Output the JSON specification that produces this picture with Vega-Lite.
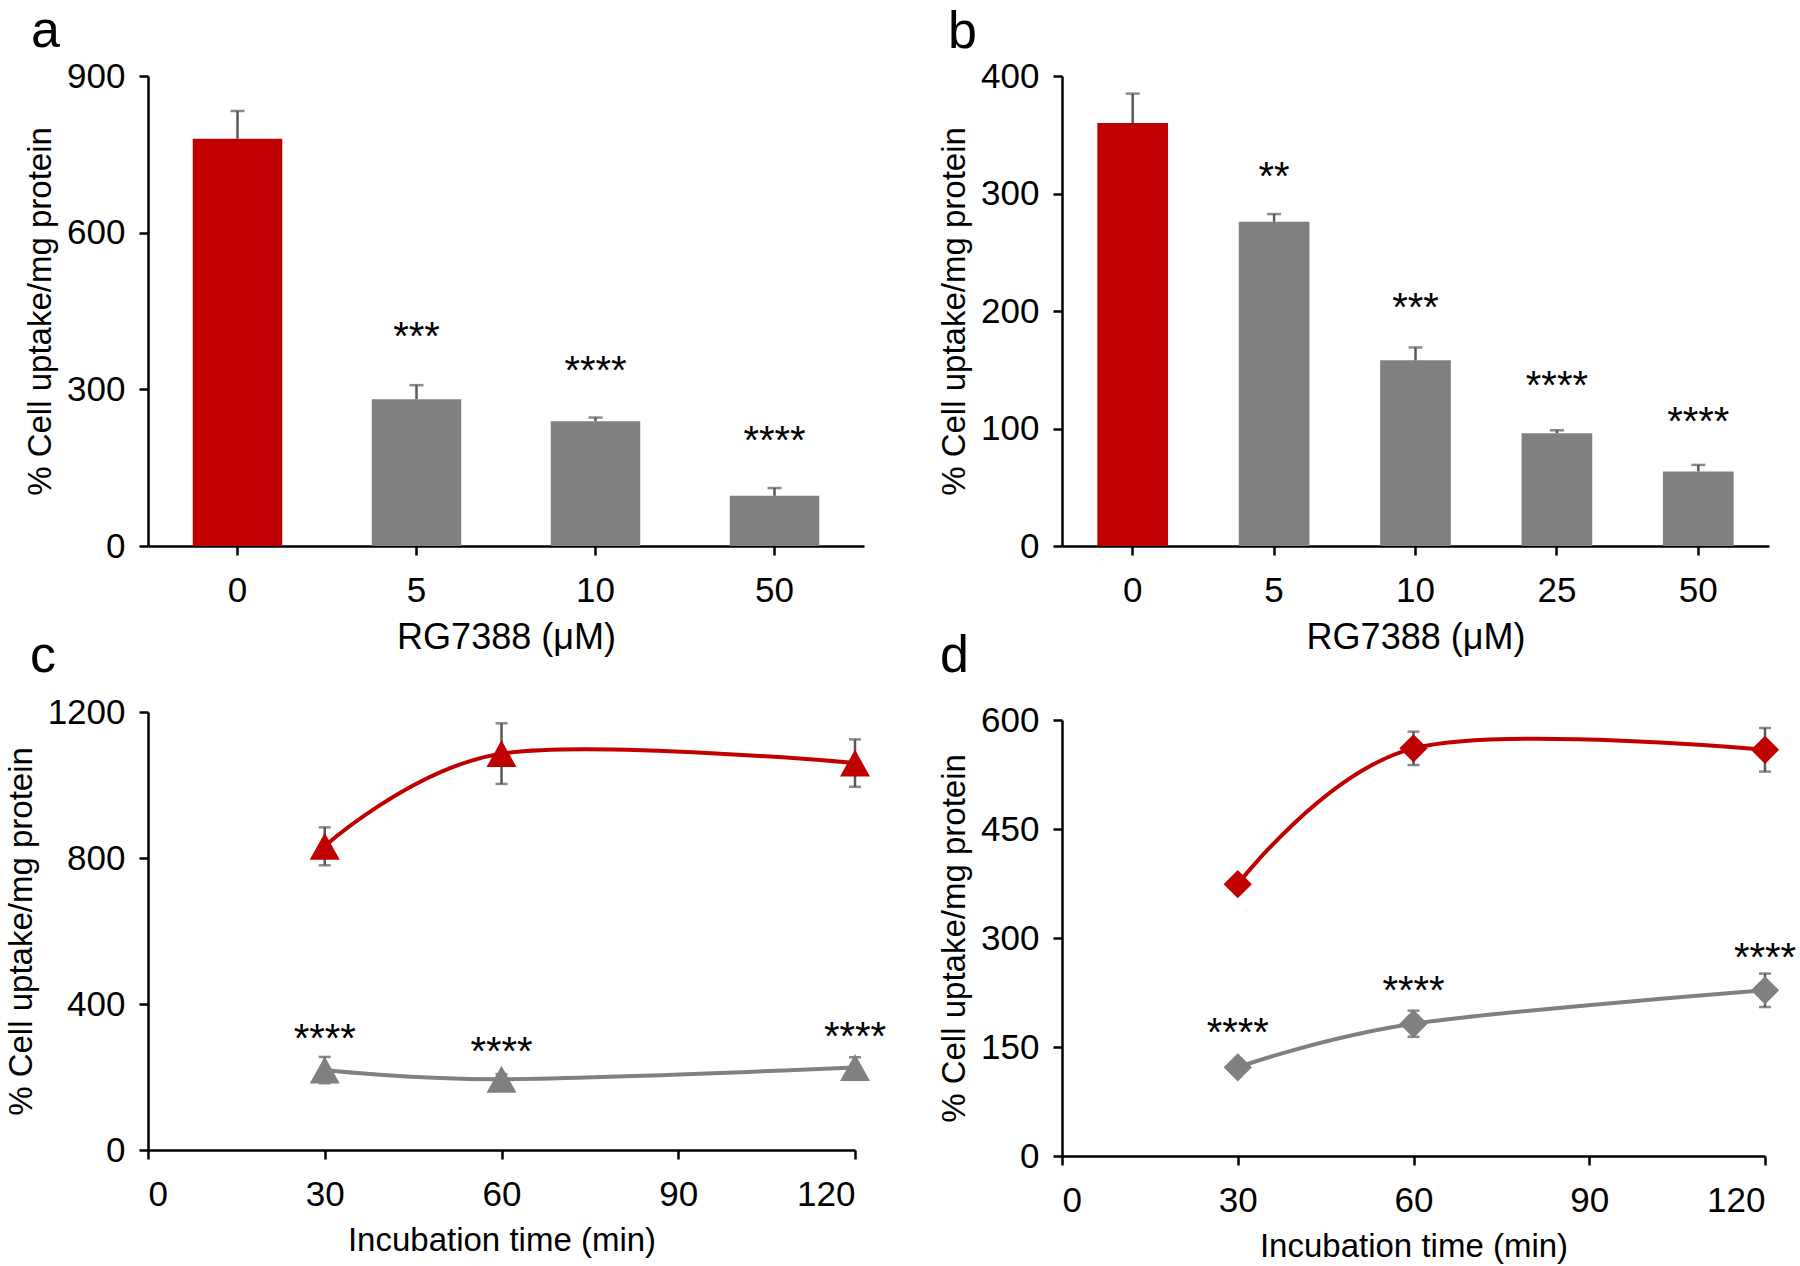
{
  "$schema": "https://vega.github.io/schema/vega-lite/v6.json",
  "background": "white",
  "padding": {"left": 5, "top": 5, "right": 5, "bottom": 5},
  "bounds": "flush",
  "spacing": 914,
  "config": {
    "font": "Liberation Sans",
    "view": {"stroke": null},
    "axis": {"grid": false, "domainColor": "#000", "domainWidth": 2.5, "tickColor": "#000", "tickWidth": 2.5, "tickSize": 9, "labelFontSize": 35, "labelColor": "#000", "titleFontSize": 33, "titleFontWeight": "normal", "titleColor": "#000", "format": "d"},
    "axisX": {"labelPadding": 18, "titlePadding": 12, "labelAngle": 0},
    "axisY": {"labelPadding": 14, "titlePadding": 9},
    "title": {"fontSize": 52, "fontWeight": "normal", "anchor": "start", "frame": "group", "color": "#000", "baseline": "alphabetic"}
  },
  "hconcat": [
    {
      "bounds": "flush",
      "spacing": 166,
      "vconcat": [
        {
          "title": {"text": "a", "offset": 1, "dx": -117},
          "width": 716, "height": 470,
          "data": {"values": [
            {"conc": "0", "grp": "control", "mean": 780, "err": 833},
            {"conc": "5", "grp": "treated", "mean": 281, "err": 308, "sig": "***", "sigpos": 415},
            {"conc": "10", "grp": "treated", "mean": 239, "err": 246, "sig": "****", "sigpos": 350},
            {"conc": "50", "grp": "treated", "mean": 96, "err": 111, "sig": "****", "sigpos": 217}
          ]},
          "encoding": {"x": {"field": "conc", "type": "ordinal", "sort": null, "scale": {"paddingInner": 0.5, "paddingOuter": 0.25}, "axis": {"title": "RG7388 (μM)", "titleFontSize": 36}}},
          "layer": [
            {"mark": {"type": "bar"}, "encoding": {
              "y": {"field": "mean", "type": "quantitative", "title": "% Cell uptake/mg protein", "scale": {"domain": [0, 900], "nice": false}, "axis": {"values": [0, 300, 600, 900]}},
              "color": {"field": "grp", "type": "nominal", "scale": {"domain": ["control", "treated"], "range": ["#C00000", "#808080"]}, "legend": null}}},
            {"mark": {"type": "rule", "color": "#595959", "strokeWidth": 2.5}, "encoding": {"y": {"field": "mean", "type": "quantitative", "title": "% Cell uptake/mg protein"}, "y2": {"field": "err"}}},
            {"mark": {"type": "tick", "orient": "horizontal", "color": "#595959", "thickness": 2.5, "size": 14}, "encoding": {"y": {"field": "err", "type": "quantitative", "title": "% Cell uptake/mg protein"}}},
            {"transform": [{"filter": "datum.sig"}], "mark": {"type": "text", "fontSize": 40, "baseline": "alphabetic", "dy": 21, "color": "#000"}, "encoding": {"y": {"field": "sigpos", "type": "quantitative", "title": "% Cell uptake/mg protein"}, "text": {"field": "sig"}}}
          ]
        },
        {
          "title": {"text": "c", "offset": 12, "dx": -118},
          "width": 707, "height": 438,
          "data": {"values": [
            {"t": 30, "grp": "control", "mean": 832, "lo": 780, "hi": 884},
            {"t": 60, "grp": "control", "mean": 1086, "lo": 1003, "hi": 1169},
            {"t": 120, "grp": "control", "mean": 1060, "lo": 995, "hi": 1125},
            {"t": 30, "grp": "treated", "mean": 219, "lo": 183, "hi": 255, "sig": "****", "sigpos": 326},
            {"t": 60, "grp": "treated", "mean": 194, "lo": 180, "hi": 208, "sig": "****", "sigpos": 290},
            {"t": 120, "grp": "treated", "mean": 226, "lo": 198, "hi": 254, "sig": "****", "sigpos": 332}
          ]},
          "encoding": {"x": {"field": "t", "type": "quantitative", "scale": {"domain": [0, 120], "nice": false}, "axis": {"values": [0, 30, 60, 90, 120], "title": "Incubation time (min)"}}},
          "layer": [
            {"mark": {"type": "line", "interpolate": "cardinal", "strokeWidth": 4}, "encoding": {
              "y": {"field": "mean", "type": "quantitative", "title": "% Cell uptake/mg protein", "scale": {"domain": [0, 1200], "nice": false}, "axis": {"values": [0, 400, 800, 1200]}},
              "color": {"field": "grp", "type": "nominal", "scale": {"domain": ["control", "treated"], "range": ["#C00000", "#808080"]}, "legend": null}}},
            {"mark": {"type": "rule", "color": "#595959", "strokeWidth": 2.5}, "encoding": {"y": {"field": "lo", "type": "quantitative", "title": "% Cell uptake/mg protein"}, "y2": {"field": "hi"}}},
            {"mark": {"type": "tick", "orient": "horizontal", "color": "#595959", "thickness": 2.5, "size": 12}, "encoding": {"y": {"field": "lo", "type": "quantitative", "title": "% Cell uptake/mg protein"}}},
            {"mark": {"type": "tick", "orient": "horizontal", "color": "#595959", "thickness": 2.5, "size": 12}, "encoding": {"y": {"field": "hi", "type": "quantitative", "title": "% Cell uptake/mg protein"}}},
            {"mark": {"type": "point", "shape": "M-1,0.9L0,-0.9L1,0.9Z", "filled": true, "size": 900, "opacity": 1}, "encoding": {
              "y": {"field": "mean", "type": "quantitative", "title": "% Cell uptake/mg protein"},
              "color": {"field": "grp", "type": "nominal", "legend": null}}},
            {"transform": [{"filter": "datum.sig"}], "mark": {"type": "text", "fontSize": 40, "baseline": "alphabetic", "dy": 21, "color": "#000"}, "encoding": {"y": {"field": "sigpos", "type": "quantitative", "title": "% Cell uptake/mg protein"}, "text": {"field": "sig"}}}
          ]
        }
      ]
    },
    {
      "bounds": "flush",
      "spacing": 174,
      "vconcat": [
        {
          "title": {"text": "b", "offset": 0, "dx": -114},
          "width": 707, "height": 470,
          "data": {"values": [
            {"conc": "0", "grp": "control", "mean": 360, "err": 385},
            {"conc": "5", "grp": "treated", "mean": 276, "err": 282.5, "sig": "**", "sigpos": 321},
            {"conc": "10", "grp": "treated", "mean": 158, "err": 169, "sig": "***", "sigpos": 209},
            {"conc": "25", "grp": "treated", "mean": 96, "err": 98.5, "sig": "****", "sigpos": 143},
            {"conc": "50", "grp": "treated", "mean": 63.5, "err": 69, "sig": "****", "sigpos": 112}
          ]},
          "encoding": {"x": {"field": "conc", "type": "ordinal", "sort": null, "scale": {"paddingInner": 0.5, "paddingOuter": 0.25}, "axis": {"title": "RG7388 (μM)", "titleFontSize": 36}}},
          "layer": [
            {"mark": {"type": "bar"}, "encoding": {
              "y": {"field": "mean", "type": "quantitative", "title": "% Cell uptake/mg protein", "scale": {"domain": [0, 400], "nice": false}, "axis": {"values": [0, 100, 200, 300, 400]}},
              "color": {"field": "grp", "type": "nominal", "scale": {"domain": ["control", "treated"], "range": ["#C00000", "#808080"]}, "legend": null}}},
            {"mark": {"type": "rule", "color": "#595959", "strokeWidth": 2.5}, "encoding": {"y": {"field": "mean", "type": "quantitative", "title": "% Cell uptake/mg protein"}, "y2": {"field": "err"}}},
            {"mark": {"type": "tick", "orient": "horizontal", "color": "#595959", "thickness": 2.5, "size": 14}, "encoding": {"y": {"field": "err", "type": "quantitative", "title": "% Cell uptake/mg protein"}}},
            {"transform": [{"filter": "datum.sig"}], "mark": {"type": "text", "fontSize": 40, "baseline": "alphabetic", "dy": 21, "color": "#000"}, "encoding": {"y": {"field": "sigpos", "type": "quantitative", "title": "% Cell uptake/mg protein"}, "text": {"field": "sig"}}}
          ]
        },
        {
          "title": {"text": "d", "offset": 20, "dx": -122},
          "width": 703, "height": 436,
          "data": {"values": [
            {"t": 30, "grp": "control", "mean": 374, "lo": 366, "hi": 382},
            {"t": 60, "grp": "control", "mean": 561, "lo": 538, "hi": 584},
            {"t": 120, "grp": "control", "mean": 559, "lo": 529, "hi": 589},
            {"t": 30, "grp": "treated", "mean": 122, "lo": 116, "hi": 128, "sig": "****", "sigpos": 180},
            {"t": 60, "grp": "treated", "mean": 182, "lo": 164, "hi": 200, "sig": "****", "sigpos": 238},
            {"t": 120, "grp": "treated", "mean": 228, "lo": 205, "hi": 251, "sig": "****", "sigpos": 284}
          ]},
          "encoding": {"x": {"field": "t", "type": "quantitative", "scale": {"domain": [0, 120], "nice": false}, "axis": {"values": [0, 30, 60, 90, 120], "title": "Incubation time (min)"}}},
          "layer": [
            {"mark": {"type": "line", "interpolate": "cardinal", "strokeWidth": 4}, "encoding": {
              "y": {"field": "mean", "type": "quantitative", "title": "% Cell uptake/mg protein", "scale": {"domain": [0, 600], "nice": false}, "axis": {"values": [0, 150, 300, 450, 600]}},
              "color": {"field": "grp", "type": "nominal", "scale": {"domain": ["control", "treated"], "range": ["#C00000", "#808080"]}, "legend": null}}},
            {"mark": {"type": "rule", "color": "#595959", "strokeWidth": 2.5}, "encoding": {"y": {"field": "lo", "type": "quantitative", "title": "% Cell uptake/mg protein"}, "y2": {"field": "hi"}}},
            {"mark": {"type": "tick", "orient": "horizontal", "color": "#595959", "thickness": 2.5, "size": 12}, "encoding": {"y": {"field": "lo", "type": "quantitative", "title": "% Cell uptake/mg protein"}}},
            {"mark": {"type": "tick", "orient": "horizontal", "color": "#595959", "thickness": 2.5, "size": 12}, "encoding": {"y": {"field": "hi", "type": "quantitative", "title": "% Cell uptake/mg protein"}}},
            {"mark": {"type": "point", "shape": "diamond", "filled": true, "size": 800, "opacity": 1}, "encoding": {
              "y": {"field": "mean", "type": "quantitative", "title": "% Cell uptake/mg protein"},
              "color": {"field": "grp", "type": "nominal", "legend": null}}},
            {"transform": [{"filter": "datum.sig"}], "mark": {"type": "text", "fontSize": 40, "baseline": "alphabetic", "dy": 21, "color": "#000"}, "encoding": {"y": {"field": "sigpos", "type": "quantitative", "title": "% Cell uptake/mg protein"}, "text": {"field": "sig"}}}
          ]
        }
      ]
    }
  ]
}
